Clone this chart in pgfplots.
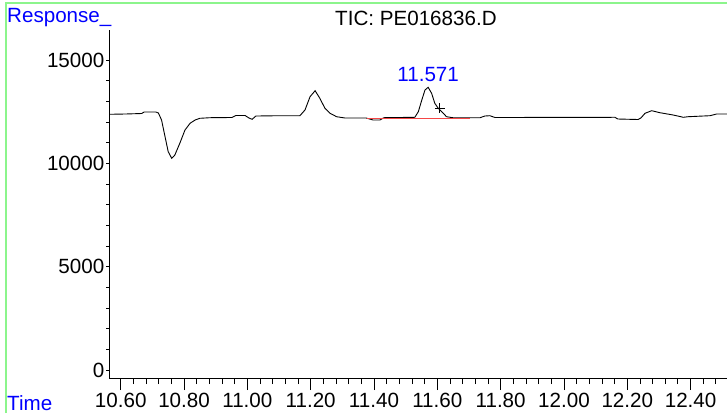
\documentclass[border=0pt]{standalone}
\usepackage{fontspec}
\setmainfont{Liberation Sans}
\usepackage{pgfplots}
\pgfplotsset{compat=1.18}
\definecolor{frameg}{RGB}{140,245,140}
\definecolor{peakred}{RGB}{245,70,70}
\newcommand{\f}{\fontsize{20.6bp}{24bp}\selectfont}
\begin{document}
\begin{tikzpicture}[x=1bp,y=1bp]
\path[use as bounding box] (0,0) rectangle (727,413);
\draw[frameg, line width=1.8bp] (6,0) -- (6,410) -- (727,410);
\node[anchor=base west, inner sep=0, text=blue, font=\f] at (7,390.7) {Response\_};
\node[anchor=base west, inner sep=0, text=blue, font=\f] at (7,3) {Time};
\node[anchor=base west, inner sep=0, font=\f] at (335,387.3) {TIC: PE016836.D};
\pgfplotsset{common/.style={at={(109bp,35bp)}, anchor=south west, scale only axis,
  width=618bp, height=348bp, xmin=10.563, xmax=12.515, ymin=-387, ymax=16452,
  tick align=outside, axis line style={-, line width=0.9bp},
  tick style={black, line width=0.9bp}, ticklabel style={font=\f},
  /pgf/number format/assume math mode=true}}
\begin{axis}[common, axis x line=none, axis y line*=left,
  ytick={0,5000,10000,15000}, minor ytick={0,1000,...,15000},
  scaled y ticks=false,
  major tick length=3bp, minor tick length=3bp,
  yticklabel style={inner xsep=1.5bp, /pgf/number format/fixed, /pgf/number format/precision=0, /pgf/number format/1000 sep={}}]
\end{axis}
\begin{axis}[common, axis y line=none, axis x line*=bottom,
  xtick={10.6,10.8,11.0,11.2,11.4,11.6,11.8,12.0,12.2,12.4},
  minor xtick={10.60,10.64,...,12.52},
  major tick length=12bp, minor tick length=6bp,
  xticklabel style={/pgf/number format/.cd, fixed, fixed zerofill, precision=2}]
\addplot[black, line width=0.9bp] coordinates {
(10.563,12373) (10.614,12387) (10.666,12411) (10.674,12484) (10.711,12484)
(10.719,12435) (10.729,12097) (10.740,11289) (10.750,10563) (10.761,10244)
(10.771,10403) (10.787,10984) (10.803,11613) (10.819,11937) (10.835,12097)
(10.850,12179) (10.882,12208) (10.951,12218) (10.964,12315) (10.993,12315)
(11.005,12194) (11.015,12131) (11.027,12290) (11.103,12305) (11.166,12305)
(11.182,12581) (11.198,13224) (11.214,13515) (11.229,13147) (11.245,12663)
(11.261,12421) (11.282,12256) (11.308,12194) (11.375,12194) (11.397,12097)
(11.419,12097) (11.431,12208) (11.529,12228) (11.540,12498) (11.551,13065)
(11.561,13548) (11.571,13679) (11.582,13389) (11.592,12905) (11.603,12663)
(11.619,12421) (11.629,12256) (11.649,12208) (11.735,12208) (11.750,12290)
(11.766,12305) (11.782,12218) (12.161,12228) (12.170,12145) (12.234,12121)
(12.243,12194) (12.256,12421) (12.277,12547) (12.303,12450) (12.345,12339)
(12.377,12228) (12.392,12256) (12.461,12305) (12.482,12387) (12.515,12387)
};
\addplot[peakred, line width=1.2bp] coordinates {(11.377,12180) (11.703,12180)};
\addplot[only marks, mark=+, mark size=5bp, black, mark options={line width=1bp}] coordinates {(11.608,12664)};
\node[anchor=base, inner sep=0, text=blue, font=\f] at (axis cs:11.571,13950) {11.571};
\end{axis}
\end{tikzpicture}
\end{document}
